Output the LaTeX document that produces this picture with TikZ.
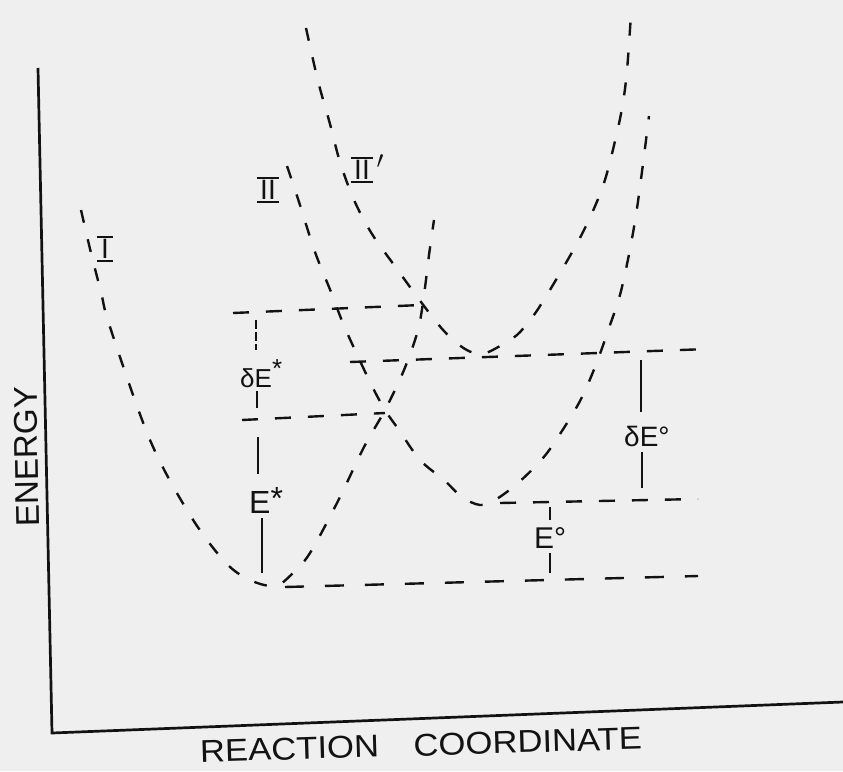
\documentclass[tikz,border=0pt]{standalone}
\usepackage{fontspec}
\setmainfont{Liberation Sans}
\definecolor{paper}{RGB}{239,239,239}
\definecolor{ink}{RGB}{18,18,18}
\begin{document}
\begin{tikzpicture}[x=1pt,y=-1pt,
  curvedash/.style={ink,line width=2.4pt,dash pattern=on 13pt off 17pt},
  hline/.style={ink,line width=2.4pt,dash pattern=on 16pt off 17pt},
  vline/.style={ink,line width=2pt},
  axisline/.style={ink,line width=2.7pt},
  lab/.style={ink,inner sep=0pt,anchor=base west},
  barline/.style={ink,line width=2.2pt},
  romlab/.style={ink,font=\fontsize{28}{28}\selectfont,inner xsep=3.5pt,inner ysep=2.5pt,
    text height=19pt,text depth=0pt,
    append after command={(\tikzlastnode.north west) edge[barline] (\tikzlastnode.north east)
      (\tikzlastnode.south west) edge[barline] (\tikzlastnode.south east)}}]
\fill[paper] (0,0) rectangle (843,771);
\useasboundingbox (0,0) rectangle (843,771);

% axes
\coordinate (ytop) at (38,68);
\coordinate (origin) at (52,733);
\coordinate (xend) at (843,702);
\draw[axisline] (ytop) -- (origin) -- (xend);
\node[ink,rotate=91,inner sep=0pt] (ylab) at (26.5,457) {\resizebox{140pt}{23pt}{ENERGY}};
\node[ink,rotate=1.7,inner sep=0pt] (xlab) at (421,745) {\resizebox{442pt}{22pt}{REACTION\hspace{1em}COORDINATE}};

% curve I
\draw[curvedash] plot[smooth,tension=0.55] coordinates {(81,210) (91,253) (101,292) (110,327) (150,440) (190,515) (225,562) (250,580) (275,586) (292,574) (310,553) (338,501) (364,447) (385,410) (404,370) (418,330) (424,295) (429,255) (434,220)};
% curve II
\draw[curvedash] plot[smooth,tension=0.55] coordinates {(287,166) (299,202) (315,252) (331,292) (345,328) (370,382) (385,410) (399,430) (420,460) (444,480) (462,497) (480,505) (495,500) (518,483) (543,458) (560,434) (580,401) (595,367) (609,328) (622,287) (636,215) (649,116)};
% curve II'
\draw[curvedash] plot[smooth,tension=0.55] coordinates {(306,28) (318,81) (330,124) (340,162) (354,200) (372,234) (397,269) (421,302) (444,331) (465,349) (482,354) (500,346) (517,335) (530,320) (540,306) (563,268) (585,228) (604,183) (618,128) (624,96) (627,70) (629,44) (631,14)};

% energy levels
\draw[hline] (233,313) -- (421,305);
\draw[hline] (350,362) -- (708,349);
\draw[hline] (242,420) -- (385,413);
\draw[hline] (500,503) -- (698,499);
\draw[hline,dash pattern=on 19pt off 21pt] (285,587) -- (698,576);

% labels of curves
\node[romlab] (nI) at (105,249) {I};
\node[romlab] (nII) at (268,190) {II};
\node[romlab] (nIIp) at (362,170) {II};
\node[ink,inner sep=0pt,font=\fontsize{24}{24}\selectfont] (prime) at (380,162) {$\prime$};

% energy differences
\node[lab,font=\fontsize{26}{26}\selectfont] (dEs) at (240,387) {δE\raisebox{0.35em}{*}};
\draw[vline,dash pattern=on 9pt off 3pt] (256,320) -- (256,350);
\draw[vline] (257,391) -- (257,408);

\node[lab,font=\fontsize{32}{32}\selectfont] (Es) at (249,513) {E\raisebox{0.12em}{*}};
\draw[vline] (258,437) -- (258,474);
\draw[vline] (262,518) -- (262,573);

\node[lab,font=\fontsize{28}{28}\selectfont] (dEo) at (624,446) {δE°};
\draw[vline] (641,360) -- (641,412);
\draw[vline] (642,452) -- (642,488);

\node[lab,font=\fontsize{30}{30}\selectfont] (Eo) at (534,548) {E°};
\draw[vline] (550,507) -- (550,520);
\draw[vline] (550,553) -- (550,573);
\end{tikzpicture}
\end{document}
